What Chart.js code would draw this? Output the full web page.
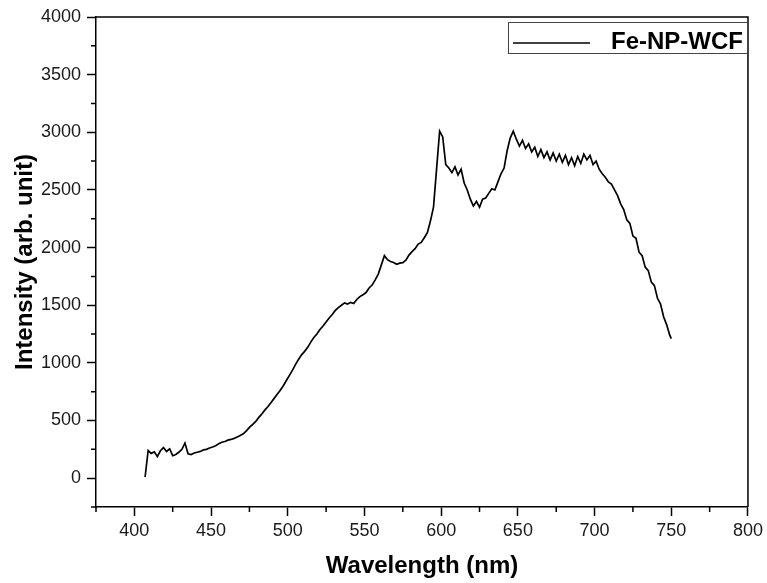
<!DOCTYPE html>
<html>
<head>
<meta charset="utf-8">
<script src="https://cdn.jsdelivr.net/npm/chart.js@4.4.1/dist/chart.umd.min.js"></script>
<style>
  html, body { margin: 0; padding: 0; background: #fff; }
</style>
</head>
<body>
<canvas id="spectrum" width="767" height="583"></canvas>
<script>
// spectrum (nm, arb. unit)
const wavelengths = [
  407, 409, 411, 413, 415, 417, 419, 421, 423, 425,
  427, 429, 431, 433, 435, 437, 439, 441, 443, 445,
  447, 449, 451, 453, 455, 457, 459, 461, 463, 465,
  467, 469, 471, 473, 475, 477, 479, 481, 483, 485,
  487, 489, 491, 493, 495, 497, 499, 501, 503, 505,
  507, 509, 511, 513, 515, 517, 519, 521, 523, 525,
  527, 529, 531, 533, 535, 537, 539, 541, 543, 545,
  547, 549, 551, 553, 555, 557, 559, 561, 563, 565,
  567, 569, 571, 573, 575, 577, 579, 581, 583, 585,
  587, 589, 591, 593, 595, 597, 599, 601, 603, 605,
  607, 609, 611, 613, 615, 617, 619, 621, 623, 625,
  627, 629, 631, 633, 635, 637, 639, 641, 643, 645,
  647, 649, 651, 653, 655, 657, 659, 661, 663, 665,
  667, 669, 671, 673, 675, 677, 679, 681, 683, 685,
  687, 689, 691, 693, 695, 697, 699, 701, 703, 705,
  707, 709, 711, 713, 715, 717, 719, 721, 723, 725,
  727, 729, 731, 733, 735, 737, 739, 741, 743, 745,
  747, 749, 750
];

const intensity = [
  10, 240, 215, 228, 188, 238, 265, 232, 255, 195,
  205, 225, 250, 305, 212, 205, 218, 225, 232, 245,
  250, 262, 270, 282, 298, 312, 318, 330, 336, 345,
  358, 370, 385, 410, 440, 465, 490, 525, 555, 590,
  620, 655, 690, 725, 760, 800, 845, 890, 935, 985,
  1030, 1070, 1100, 1135, 1180, 1220, 1250, 1290, 1320, 1355,
  1390, 1420, 1455, 1480, 1500, 1520, 1510, 1525, 1515, 1550,
  1575, 1590, 1610, 1650, 1675, 1720, 1770, 1850, 1930, 1895,
  1880, 1870, 1855, 1865, 1870, 1890, 1935, 1965, 1990, 2030,
  2045, 2085, 2130, 2230, 2350, 2680, 3010, 2960, 2720, 2690,
  2650, 2700, 2630, 2680, 2560, 2500, 2420, 2360, 2400, 2350,
  2420, 2430, 2470, 2510, 2500, 2570, 2640, 2690, 2840, 2950,
  3010, 2940, 2880, 2930, 2860, 2900, 2830, 2870, 2790, 2850,
  2780, 2830, 2760, 2820, 2750, 2810, 2740, 2800, 2720, 2780,
  2710, 2790, 2730, 2810, 2760, 2800, 2720, 2750, 2680, 2640,
  2610, 2570, 2550, 2500, 2450, 2380, 2330, 2240, 2210, 2100,
  2080, 1960, 1930, 1830, 1800, 1700, 1670, 1560, 1510, 1400,
  1330, 1240, 1210
];

const xMajor = [400, 450, 500, 550, 600, 650, 700, 750, 800];
const xMinor = [375, 425, 475, 525, 575, 625, 675, 725, 775];
const yMajor = [0, 500, 1000, 1500, 2000, 2500, 3000, 3500, 4000];
const yMinor = [-250, 250, 750, 1250, 1750, 2250, 2750, 3250, 3750];

const FONT = "'Liberation Sans', Arial, sans-serif";

// top/right frame, minor ticks and the boxed legend
const framePlugin = {
  id: 'frame',
  afterDraw(chart) {
    const { ctx, chartArea: a, scales } = chart;
    ctx.save();
    ctx.strokeStyle = '#000';
    ctx.lineWidth = 1.5;
    ctx.beginPath();
    ctx.moveTo(a.left, a.top);
    ctx.lineTo(a.right, a.top);
    ctx.lineTo(a.right, a.bottom);
    ctx.stroke();

    ctx.beginPath();
    xMinor.forEach(v => {
      const px = scales.x.getPixelForValue(v);
      ctx.moveTo(px, a.bottom);
      ctx.lineTo(px, a.bottom + 5);
    });
    yMinor.forEach(v => {
      const py = scales.y.getPixelForValue(v);
      ctx.moveTo(a.left, py);
      ctx.lineTo(a.left - 5, py);
    });
    ctx.stroke();

    // legend box
    const bx = a.right - 240, by = a.top + 5, bw = 239, bh = 31;
    ctx.lineWidth = 1;
    ctx.strokeStyle = '#444';
    ctx.strokeRect(bx + 0.5, by + 0.5, bw, bh);
    ctx.strokeStyle = '#000';
    ctx.lineWidth = 1.3;
    ctx.beginPath();
    ctx.moveTo(bx + 5, by + 21);
    ctx.lineTo(bx + 82, by + 21);
    ctx.stroke();
    ctx.fillStyle = '#000';
    ctx.font = 'bold 24px ' + FONT;
    ctx.textAlign = 'right';
    ctx.textBaseline = 'middle';
    ctx.fillText(chart.data.datasets[0].label, a.right - 5, by + 20);
    ctx.restore();
  }
};

new Chart(document.getElementById('spectrum'), {
  type: 'line',
  data: {
    datasets: [{
      label: 'Fe-NP-WCF',
      data: wavelengths.map((w, i) => ({ x: w, y: intensity[i] })),
      borderColor: '#000',
      borderWidth: 1.7,
      pointRadius: 0,
      tension: 0,
      fill: false
    }]
  },
  options: {
    responsive: false,
    animation: false,
    layout: { padding: { top: 17, right: 17, left: 0, bottom: 0 } },
    plugins: {
      legend: { display: false },
      tooltip: { enabled: false }
    },
    scales: {
      x: {
        type: 'linear',
        min: 375,
        max: 800,
        afterBuildTicks: s => { s.ticks = xMajor.map(v => ({ value: v })); },
        afterFit: s => { s.height = 76; },
        grid: { drawOnChartArea: false, drawTicks: true, tickLength: 9, tickColor: '#000', tickWidth: 1.5 },
        border: { display: true, color: '#000', width: 1.5 },
        ticks: { color: '#1a1a1a', font: { family: FONT, size: 18 }, padding: 4, maxRotation: 0,
                 callback: v => String(v) },
        title: {
          display: true,
          text: 'Wavelength (nm)',
          color: '#000',
          font: { family: FONT, size: 24, weight: 'bold', lineHeight: 1.2 },
          padding: { top: 0, bottom: 2 }
        }
      },
      y: {
        min: -250,
        max: 4000,
        afterBuildTicks: s => { s.ticks = yMajor.map(v => ({ value: v })); },
        afterFit: s => { s.width = 96; },
        grid: { drawOnChartArea: false, drawTicks: true, tickLength: 9, tickColor: '#000', tickWidth: 1.5 },
        border: { display: true, color: '#000', width: 1.5 },
        ticks: { color: '#1a1a1a', font: { family: FONT, size: 18 }, padding: 6,
                 callback: v => String(v) },
        title: {
          display: true,
          text: 'Intensity (arb. unit)',
          color: '#000',
          font: { family: FONT, size: 24, weight: 'bold', lineHeight: 1.2 },
          padding: { top: 11, bottom: 0 }
        }
      }
    }
  },
  plugins: [framePlugin]
});
</script>
</body>
</html>
